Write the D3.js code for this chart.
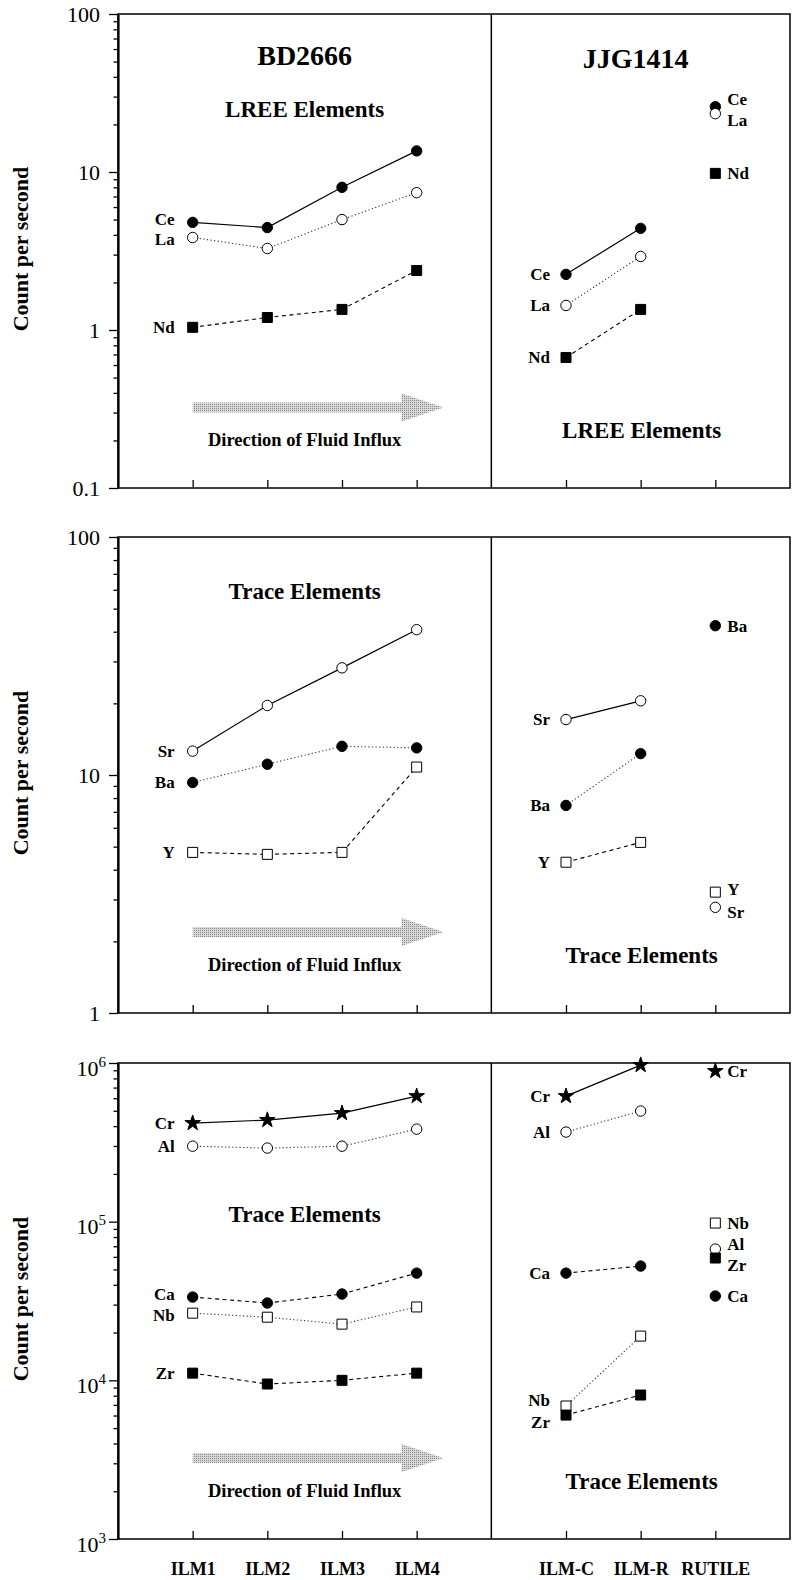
<!DOCTYPE html>
<html>
<head>
<meta charset="utf-8">
<script src="https://cdn.jsdelivr.net/npm/d3@7"></script>
<style>
  body { margin: 0; background: #fff; }
  svg text { font-family: "Liberation Serif", "Times New Roman", Times, serif; fill: #000; }
</style>
</head>
<body>
<div id="chart"></div>
<script>
const bdCats = ['ILM1', 'ILM2', 'ILM3', 'ILM4']
const jjCats = ['ILM-C', 'ILM-R', 'RUTILE']

// LREE elements (count per second)
const bdCe = [4.8, 4.45, 8.0, 13.6]
const bdLa = [3.85, 3.28, 5.0, 7.4]
const bdNd = [1.04, 1.2, 1.35, 2.38]
const jjCe = [2.25, 4.4, 25.9]
const jjLa = [1.43, 2.92, 23.4]
const jjNd = [0.67, 1.35, 9.8]

// trace elements, low range
const bdSr = [12.6, 19.6, 28.2, 40.8]
const bdBa = [9.3, 11.1, 13.2, 13.0]
const bdY = [4.73, 4.64, 4.73, 10.8]
const jjSr = [17.1, 20.5, 2.78]
const jjBa = [7.45, 12.3, 42.4]
const jjY = [4.3, 5.21, 3.22]

// trace elements, high range
const bdCr = [418000, 437000, 483000, 618000]
const bdAl = [299000, 291000, 299000, 383000]
const bdCa = [33500, 30700, 35000, 47400]
const bdNb = [26500, 25000, 22600, 29000]
const bdZr = [11100, 9480, 10000, 11100]
const jjCr = [618000, 970000, 889000]
const jjAl = [367000, 498000, 67200]
const jjCa = [47400, 52500, 34000]
const jjNb = [6890, 19000, 98000]
const jjZr = [6040, 8080, 59000]

const width = 794
const height = 1580

const panels = [
  {
    top: 14, bottom: 488, domain: [0.1, 100], sup: false, samples: true,
    leftTitle: 'LREE Elements', leftTitleAt: 0.217, rightTitle: 'LREE Elements',
    series: [
      { name: 'Ce', bd: bdCe, jj: jjCe, sym: 'circle', filled: true, dash: 'solid', bdDy: -3, rutileDy: -8 },
      { name: 'La', bd: bdLa, jj: jjLa, sym: 'circle', filled: false, dash: 'dot', bdDy: 2, rutileDy: 6 },
      { name: 'Nd', bd: bdNd, jj: jjNd, sym: 'square', filled: true, dash: 'dash' }
    ]
  },
  {
    top: 537, bottom: 1013, domain: [1, 100], sup: false, samples: false,
    leftTitle: 'Trace Elements', leftTitleAt: 0.13, rightTitle: 'Trace Elements',
    series: [
      { name: 'Sr', bd: bdSr, jj: jjSr, sym: 'circle', filled: false, dash: 'solid', rutileDy: 5 },
      { name: 'Ba', bd: bdBa, jj: jjBa, sym: 'circle', filled: true, dash: 'dot' },
      { name: 'Y', bd: bdY, jj: jjY, sym: 'square', filled: false, dash: 'dash', rutileDy: -3 }
    ]
  },
  {
    top: 1063, bottom: 1539, domain: [1000, 1000000], sup: true, samples: false, xLabels: true,
    leftTitle: 'Trace Elements', leftTitleAt: 0.334, rightTitle: 'Trace Elements',
    series: [
      { name: 'Cr', bd: bdCr, jj: jjCr, sym: 'star', filled: true, dash: 'solid' },
      { name: 'Al', bd: bdAl, jj: jjAl, sym: 'circle', filled: false, dash: 'dot', rutileDy: -5 },
      { name: 'Ca', bd: bdCa, jj: jjCa, sym: 'circle', filled: true, dash: 'dash', bdDy: -3 },
      { name: 'Nb', bd: bdNb, jj: jjNb, sym: 'square', filled: false, dash: 'dot', bdDy: 2, jjDy: -6 },
      { name: 'Zr', bd: bdZr, jj: jjZr, sym: 'square', filled: true, dash: 'dash', jjDy: 7, rutileDy: 7 }
    ]
  }
]

const svg = d3.select('#chart')
  .append('svg')
  .attr('width', width)
  .attr('height', height)

// arrow texture
const pattern = svg.append('defs')
  .append('pattern')
  .attr('id', 'dither')
  .attr('width', 2)
  .attr('height', 2)
  .attr('patternUnits', 'userSpaceOnUse')
pattern.append('rect').attr('width', 2).attr('height', 2).attr('fill', '#d8d8d8')
pattern.append('rect').attr('width', 1).attr('height', 1).attr('fill', '#8c8c8c')

const x = d3.scalePoint()
  .domain(['start', ...bdCats, 'split', ...jjCats, 'end'])
  .range([118, 790])

const symbols = { circle: d3.symbolCircle, square: d3.symbolSquare, star: d3.symbolStar }
const symbolSize = { circle: 85, square: 100, star: 75 }
const dashes = { solid: null, dot: '1.2,2.4', dash: '4,3.5' }
const isMajor = d => Math.abs(Math.log10(d) - Math.round(Math.log10(d))) < 1e-6

function drawPanel (p) {
  const h = p.bottom - p.top
  const y = d3.scaleLog().domain(p.domain).range([p.bottom, p.top])
  const g = svg.append('g')
  const midLeft = (x('ILM2') + x('ILM3')) / 2

  // frame and divider
  g.append('rect')
    .attr('x', x('start'))
    .attr('y', p.top)
    .attr('width', x('end') - x('start'))
    .attr('height', h)
    .attr('fill', 'none')
    .attr('stroke', '#000')
    .attr('stroke-width', 1.5)
  g.append('line')
    .attr('x1', x('split'))
    .attr('x2', x('split'))
    .attr('y1', p.top)
    .attr('y2', p.bottom)
    .attr('stroke', '#000')
    .attr('stroke-width', 1.5)

  // y axis with minor ticks
  const axisY = d3.axisLeft(y)
    .tickValues(y.ticks())
    .tickSize(9)
    .tickSizeOuter(0)
    .tickPadding(p.sup ? 3 : 9)
    .tickFormat(d => isMajor(d) && !p.sup ? d3.format('~g')(d) : '')
  const ay = g.append('g')
    .attr('transform', `translate(${x('start')},0)`)
    .call(axisY)
  ay.select('.domain').attr('stroke-width', 2.2)
  ay.selectAll('.tick line').attr('stroke-width', 1.3)
  ay.selectAll('.tick text').attr('font-size', 22).style('font-family', '"Liberation Serif", serif')
  ay.selectAll('.tick').each(function (d) {
    const tick = d3.select(this)
    if (!isMajor(d)) {
      tick.select('line').attr('x2', -4.5)
      tick.select('text').remove()
    } else if (p.sup) {
      const t = tick.select('text').attr('dy', '0.55em').text('10')
      t.append('tspan')
        .attr('dy', '-0.6em')
        .attr('font-size', 15)
        .text(Math.round(Math.log10(d)))
    }
  })

  // x axis ticks
  const axisX = d3.axisBottom(x)
    .tickValues([...bdCats, ...jjCats])
    .tickSizeInner(-8)
    .tickSizeOuter(0)
    .tickPadding(23)
    .tickFormat(d => p.xLabels ? d : '')
  const ax = g.append('g')
    .attr('transform', `translate(0,${p.bottom})`)
    .call(axisX)
  ax.select('.domain').remove()
  ax.selectAll('.tick line').attr('stroke-width', 1.3)
  ax.selectAll('.tick text')
    .attr('font-size', 18)
    .attr('font-weight', 'bold')
    .style('font-family', '"Liberation Serif", serif')

  // y title
  g.append('text')
    .attr('transform', `translate(28,${(p.top + p.bottom) / 2 - 2}) rotate(-90)`)
    .attr('text-anchor', 'middle')
    .attr('font-size', 22)
    .attr('font-weight', 'bold')
    .text('Count per second')

  // titles
  if (p.samples) {
    g.append('text')
      .attr('x', midLeft)
      .attr('y', p.top + 0.108 * h)
      .attr('text-anchor', 'middle')
      .attr('font-size', 28)
      .attr('font-weight', 'bold')
      .text('BD2666')
    g.append('text')
      .attr('x', x('ILM-R') - 5)
      .attr('y', p.top + 0.114 * h)
      .attr('text-anchor', 'middle')
      .attr('font-size', 28)
      .attr('font-weight', 'bold')
      .text('JJG1414')
  }
  g.append('text')
    .attr('x', midLeft)
    .attr('y', p.top + p.leftTitleAt * h)
    .attr('text-anchor', 'middle')
    .attr('font-size', 23)
    .attr('font-weight', 'bold')
    .text(p.leftTitle)
  g.append('text')
    .attr('x', x('ILM-R') + 1)
    .attr('y', p.top + 0.894 * h)
    .attr('text-anchor', 'middle')
    .attr('font-size', 23)
    .attr('font-weight', 'bold')
    .text(p.rightTitle)

  // fluid influx arrow
  const ay0 = p.top + 0.83 * h
  const ax0 = x('ILM1')
  const tip = x('ILM4') + x.step() * 0.36
  const neck = tip - 42
  g.append('path')
    .attr('d', `M${ax0},${ay0 - 5}L${neck},${ay0 - 5}L${neck},${ay0 - 14}L${tip},${ay0}L${neck},${ay0 + 14}L${neck},${ay0 + 5}L${ax0},${ay0 + 5}Z`)
    .attr('fill', 'url(#dither)')
  g.append('text')
    .attr('x', midLeft)
    .attr('y', p.top + 0.912 * h)
    .attr('text-anchor', 'middle')
    .attr('font-size', 18.5)
    .attr('font-weight', 'bold')
    .text('Direction of Fluid Influx')

  const line = d3.line().x(d => x(d[0])).y(d => y(d[1]))

  p.series.forEach(s => {
    const bdPts = s.bd.map((v, i) => [bdCats[i], v])
    const jjPts = s.jj.map((v, i) => [jjCats[i], v])
    ;[bdPts, jjPts.slice(0, 2)].forEach(pts => {
      g.append('path')
        .attr('d', line(pts))
        .attr('fill', 'none')
        .attr('stroke', s.dash === 'dot' ? '#333' : '#000')
        .attr('stroke-width', s.dash === 'solid' ? 1.2 : 1.1)
        .attr('stroke-dasharray', dashes[s.dash])
    })
    g.selectAll(null)
      .data(bdPts.concat(jjPts))
      .join('path')
      .attr('transform', d => `translate(${x(d[0])},${y(d[1])})`)
      .attr('d', d3.symbol().type(symbols[s.sym]).size(symbolSize[s.sym]))
      .attr('fill', s.filled ? '#000' : '#fff')
      .attr('stroke', '#000')
      .attr('stroke-width', 1)

    const label = (px, py, anchor) => g.append('text')
      .attr('x', px)
      .attr('y', py)
      .attr('dy', '0.35em')
      .attr('text-anchor', anchor)
      .attr('font-size', 17)
      .attr('font-weight', 'bold')
      .text(s.name)
    label(x('ILM1') - 18, y(s.bd[0]) + (s.bdDy || 0), 'end')
    label(x('ILM-C') - 16, y(s.jj[0]) + (s.jjDy || 0), 'end')
    label(x('RUTILE') + 12, y(s.jj[2]) + (s.rutileDy || 0), 'start')
  })
}

panels.forEach(drawPanel)
</script>
</body>
</html>
